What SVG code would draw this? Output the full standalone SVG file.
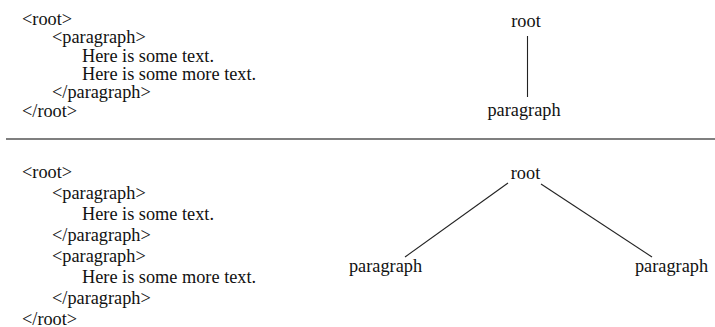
<svg xmlns="http://www.w3.org/2000/svg" width="715" height="327" viewBox="0 0 715 327">
  <style>
    .mid { text-anchor: middle; }
    .edge { stroke: #222; stroke-width: 1.1; fill: none; }
    .rule { stroke: #555; stroke-width: 1.5; }
  </style>
  <rect width="715" height="327" fill="#fff"/>

  <g font-family="'Liberation Serif', 'DejaVu Serif', serif" font-size="18.3" fill="#111">
    <!-- Example 1: markup listing -->
    <g id="listing-1">
      <text x="22" y="25">&lt;root&gt;</text>
      <text x="52" y="43">&lt;paragraph&gt;</text>
      <text x="82" y="61.5">Here is some text.</text>
      <text x="82" y="80">Here is some more text.</text>
      <text x="52" y="98">&lt;/paragraph&gt;</text>
      <text x="22" y="117">&lt;/root&gt;</text>
    </g>

    <!-- Example 1: tree -->
    <g id="connectors-1">
      <line class="edge" x1="527.5" y1="36" x2="527.5" y2="97"/>
    </g>
    <g id="tree1-root"><text class="mid" x="526" y="27">root</text></g>
    <g id="tree1-paragraph"><text class="mid" x="524" y="116">paragraph</text></g>

    <!-- Example 2: markup listing -->
    <g id="listing-2">
      <text x="22" y="178">&lt;root&gt;</text>
      <text x="52" y="199">&lt;paragraph&gt;</text>
      <text x="82" y="220">Here is some text.</text>
      <text x="52" y="241">&lt;/paragraph&gt;</text>
      <text x="52" y="262">&lt;paragraph&gt;</text>
      <text x="82" y="283">Here is some more text.</text>
      <text x="52" y="304">&lt;/paragraph&gt;</text>
      <text x="22" y="324.5">&lt;/root&gt;</text>
    </g>

    <!-- Example 2: tree -->
    <g id="connectors-2">
      <line class="edge" x1="508" y1="183" x2="405" y2="257"/>
      <line class="edge" x1="541" y1="184" x2="652" y2="257"/>
    </g>
    <g id="tree2-root"><text class="mid" x="525.5" y="179">root</text></g>
    <g id="tree2-paragraph-a"><text class="mid" x="385.5" y="272">paragraph</text></g>
    <g id="tree2-paragraph-b"><text class="mid" x="671.5" y="272">paragraph</text></g>
  </g>

  <!-- Separator -->
  <line class="rule" x1="6" y1="139" x2="715" y2="139"/>
</svg>
